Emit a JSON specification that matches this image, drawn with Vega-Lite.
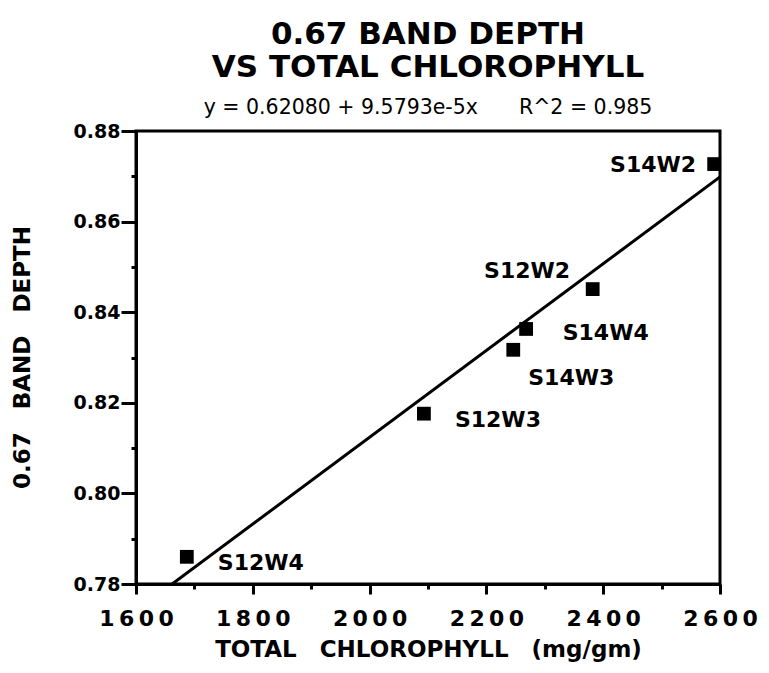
{
  "$schema": "https://vega.github.io/schema/vega-lite/v6.json",
  "width": 584,
  "height": 453,
  "autosize": "none",
  "padding": {"left": 136, "top": 131, "right": 49, "bottom": 89},
  "background": "white",
  "config": {
    "view": {"stroke": "black", "strokeWidth": 3},
    "font": "DejaVu Sans"
  },
  "title": {
    "text": ["0.67 BAND DEPTH", "VS TOTAL CHLOROPHYLL"],
    "subtitle": "y = 0.62080 + 9.5793e-5x\u2003\u2003R^2 = 0.985",
    "font": "DejaVu Sans",
    "fontWeight": "bold",
    "fontSize": 31,
    "lineHeight": 33,
    "color": "black",
    "subtitleFont": "DejaVu Sans",
    "subtitleFontSize": 20.5,
    "subtitleFontWeight": "normal",
    "subtitleColor": "black",
    "subtitlePadding": 14,
    "offset": 3,
    "anchor": "middle",
    "frame": "group"
  },
  "datasets": {
    "samples": [
      {"sample": "S12W4", "chlorophyll": 1687, "depth": 0.786},
      {"sample": "S12W3", "chlorophyll": 2093, "depth": 0.8176},
      {"sample": "S14W3", "chlorophyll": 2246, "depth": 0.8317},
      {"sample": "S12W2", "chlorophyll": 2268, "depth": 0.8363},
      {"sample": "S14W4", "chlorophyll": 2382, "depth": 0.8451},
      {"sample": "S14W2", "chlorophyll": 2590, "depth": 0.8727}
    ],
    "fit": [
      {"chlorophyll": 1661.9, "depth": 0.78},
      {"chlorophyll": 2600, "depth": 0.86986}
    ]
  },
  "resolve": {"axis": {"x": "independent", "y": "independent"}},
  "layer": [
    {
      "data": {"name": "fit"},
      "mark": {"type": "line", "color": "black", "strokeWidth": 3, "clip": true},
      "encoding": {
        "x": {
          "field": "chlorophyll",
          "type": "quantitative",
          "scale": {"domain": [1600, 2600], "nice": false, "zero": false},
          "axis": {
            "orient": "bottom",
            "title": "TOTAL\u2003CHLOROPHYLL\u2003(mg/gm)",
            "titleFont": "DejaVu Sans",
            "titleFontWeight": "bold",
            "titleFontSize": 23,
            "titleColor": "black",
            "titleBaseline": "alphabetic",
            "titleY": 72,
            "values": [1600, 1800, 2000, 2200, 2400, 2600],
            "format": "d",
            "labelExpr": "join(split(datum.label, ''), '\u2009')",
            "labelFont": "DejaVu Sans",
            "labelFontWeight": "bold",
            "labelFontSize": 22,
            "labelColor": "black",
            "labelBaseline": "alphabetic",
            "labelPadding": 31,
            "labelOverlap": false,
            "labelFlush": false,
            "ticks": true,
            "tickColor": "black",
            "tickWidth": 3,
            "tickSize": 10,
            "domainColor": "black",
            "domainWidth": 3,
            "grid": false
          }
        },
        "y": {
          "field": "depth",
          "type": "quantitative",
          "scale": {"domain": [0.78, 0.88], "nice": false, "zero": false},
          "axis": {
            "orient": "left",
            "title": "0.67\u2003BAND\u2003DEPTH",
            "titleFont": "DejaVu Sans",
            "titleFontWeight": "bold",
            "titleFontSize": 23,
            "titleColor": "black",
            "titleBaseline": "middle",
            "titleAngle": -90,
            "titleX": -114,
            "titleY": 226,
            "values": [0.78, 0.8, 0.82, 0.84, 0.86, 0.88],
            "format": ".2f",
            "labelFont": "DejaVu Sans",
            "labelFontWeight": "bold",
            "labelFontSize": 19,
            "labelColor": "black",
            "labelPadding": 1,
            "labelOverlap": false,
            "labelFlush": false,
            "ticks": true,
            "tickColor": "black",
            "tickWidth": 3,
            "tickSize": 15,
            "domainColor": "black",
            "domainWidth": 3,
            "grid": false
          }
        }
      }
    },
    {
      "data": {"name": "fit"},
      "mark": {"type": "point", "opacity": 0},
      "encoding": {
        "x": {
          "field": "chlorophyll",
          "type": "quantitative",
          "axis": {
            "orient": "bottom",
            "title": null,
            "values": [1700, 1900, 2100, 2300, 2500],
            "labels": false,
            "domain": false,
            "grid": false,
            "ticks": true,
            "tickColor": "black",
            "tickWidth": 3,
            "tickSize": 5
          }
        },
        "y": {
          "field": "depth",
          "type": "quantitative",
          "axis": {
            "orient": "left",
            "title": null,
            "values": [0.79, 0.81, 0.83, 0.85, 0.87],
            "labels": false,
            "domain": false,
            "grid": false,
            "ticks": true,
            "tickColor": "black",
            "tickWidth": 3,
            "tickSize": 5
          }
        }
      }
    },
    {
      "data": {"name": "samples"},
      "mark": {"type": "square", "color": "black", "filled": true, "opacity": 1, "size": 190},
      "encoding": {
        "x": {"field": "chlorophyll", "type": "quantitative", "axis": null},
        "y": {"field": "depth", "type": "quantitative", "axis": null}
      }
    },
    {
      "data": {"name": "samples"},
      "transform": [{"filter": "datum.sample === 'S14W2'"}],
      "mark": {"type": "text", "font": "DejaVu Sans", "fontWeight": "bold", "fontSize": 22, "color": "black", "align": "right", "baseline": "middle", "dx": -18, "dy": 1},
      "encoding": {
        "x": {"field": "chlorophyll", "type": "quantitative", "axis": null},
        "y": {"field": "depth", "type": "quantitative", "axis": null},
        "text": {"field": "sample"}
      }
    },
    {
      "data": {"name": "samples"},
      "transform": [{"filter": "datum.sample === 'S12W2'"}],
      "mark": {"type": "text", "font": "DejaVu Sans", "fontWeight": "bold", "fontSize": 22, "color": "black", "align": "center", "baseline": "middle", "dx": 1, "dy": -58},
      "encoding": {
        "x": {"field": "chlorophyll", "type": "quantitative", "axis": null},
        "y": {"field": "depth", "type": "quantitative", "axis": null},
        "text": {"field": "sample"}
      }
    },
    {
      "data": {"name": "samples"},
      "transform": [{"filter": "datum.sample === 'S14W4'"}],
      "mark": {"type": "text", "font": "DejaVu Sans", "fontWeight": "bold", "fontSize": 22, "color": "black", "align": "center", "baseline": "middle", "dx": 13, "dy": 44},
      "encoding": {
        "x": {"field": "chlorophyll", "type": "quantitative", "axis": null},
        "y": {"field": "depth", "type": "quantitative", "axis": null},
        "text": {"field": "sample"}
      }
    },
    {
      "data": {"name": "samples"},
      "transform": [{"filter": "datum.sample === 'S14W3'"}],
      "mark": {"type": "text", "font": "DejaVu Sans", "fontWeight": "bold", "fontSize": 22, "color": "black", "align": "center", "baseline": "middle", "dx": 58, "dy": 28},
      "encoding": {
        "x": {"field": "chlorophyll", "type": "quantitative", "axis": null},
        "y": {"field": "depth", "type": "quantitative", "axis": null},
        "text": {"field": "sample"}
      }
    },
    {
      "data": {"name": "samples"},
      "transform": [{"filter": "datum.sample === 'S12W3' || datum.sample === 'S12W4'"}],
      "mark": {"type": "text", "font": "DejaVu Sans", "fontWeight": "bold", "fontSize": 22, "color": "black", "align": "left", "baseline": "middle", "dx": 31, "dy": 6},
      "encoding": {
        "x": {"field": "chlorophyll", "type": "quantitative", "axis": null},
        "y": {"field": "depth", "type": "quantitative", "axis": null},
        "text": {"field": "sample"}
      }
    }
  ]
}
